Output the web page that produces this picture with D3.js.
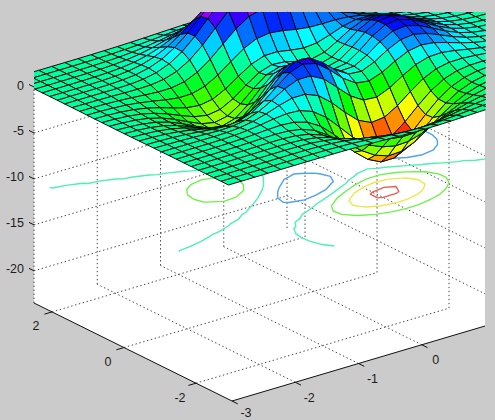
<!DOCTYPE html>
<html>
<head>
<meta charset="utf-8">
<script src="https://cdn.jsdelivr.net/npm/d3@7"></script>
<style>
  html, body { margin: 0; padding: 0; background: #cbcbcb; }
  svg { display: block; }
  text { font-family: "Liberation Sans", Arial, sans-serif; font-size: 12.5px; fill: #1c1c1c; }
</style>
</head>
<body>
<svg id="chart" width="495" height="420"></svg>
<script>
// Mesh coordinates, one entry per grid line
const gridX = [-3,-2.7931,-2.5862,-2.3793,-2.1724,-1.9655,-1.7586,-1.5517,-1.3448,-1.1379,-0.931,-0.7241,-0.5172,-0.3103,-0.1034,0.1034,0.3103,0.5172,0.7241,0.931,1.1379,1.3448,1.5517,1.7586,1.9655,2.1724,2.3793,2.5862,2.7931,3];
const gridY = [-3,-2.7931,-2.5862,-2.3793,-2.1724,-1.9655,-1.7586,-1.5517,-1.3448,-1.1379,-0.931,-0.7241,-0.5172,-0.3103,-0.1034,0.1034,0.3103,0.5172,0.7241,0.931,1.1379,1.3448,1.5517,1.7586,1.9655,2.1724,2.3793,2.5862,2.7931,3];

// Surface heights: one row per gridY entry, one column per gridX entry
const heights = [
[0.00007,0.00019,0.00048,0.00108,0.00214,0.00365,0.00506,0.00481,-0.0001,-0.01379,-0.04027,-0.08104,-0.13276,-0.18666,-0.2305,-0.25305,-0.24867,-0.21968,-0.17489,-0.12562,-0.08143,-0.04764,-0.0251,-0.01189,-0.00503,-0.0019,-0.00062,-0.00017,-0.00004,-0.00001],
[0.00013,0.00039,0.00096,0.00216,0.00422,0.00696,0.00901,0.0066,-0.00707,-0.04128,-0.10481,-0.2006,-0.32045,-0.44398,-0.54321,-0.59265,-0.57994,-0.51083,-0.40586,-0.2911,-0.18853,-0.11022,-0.05806,-0.02748,-0.01163,-0.00437,-0.00144,-0.0004,-0.00008,-0.00002],
[0.00025,0.00072,0.0018,0.004,0.00771,0.01245,0.0152,0.00818,-0.02256,-0.09586,-0.22936,-0.42857,-0.67631,-0.93044,-1.13343,-1.23305,-1.20419,-1.05905,-0.84026,-0.60181,-0.3891,-0.227,-0.1192,-0.05618,-0.02363,-0.00879,-0.00285,-0.00077,-0.00016,-0.00002],
[0.00042,0.00119,0.00305,0.0068,0.01319,0.02123,0.02551,0.01194,-0.04487,-0.17921,-0.42366,-0.78874,-1.24353,-1.71101,-2.08531,-2.26971,-2.21714,-1.94954,-1.54551,-1.10502,-0.71241,-0.41375,-0.21579,-0.10066,-0.04169,-0.01513,-0.0047,-0.00117,-0.0002,0],
[0.00062,0.00181,0.00468,0.01066,0.02108,0.03485,0.04394,0.0265,-0.05793,-0.26546,-0.65098,-1.23512,-1.97129,-2.73623,-3.3563,-3.66999,-3.59577,-3.16615,-2.5091,-1.78963,-1.14801,-0.66111,-0.34026,-0.15548,-0.0623,-0.02139,-0.00597,-0.00114,0.00001,0.00013],
[0.00076,0.00232,0.0063,0.01496,0.03093,0.05424,0.07591,0.06774,-0.02612,-0.28701,-0.79962,-1.60407,-2.6447,-3.75099,-4.67093,-5.16147,-5.09167,-4.49863,-3.56465,-2.53207,-1.60949,-0.91217,-0.45736,-0.20022,-0.07449,-0.02209,-0.00412,0.00042,0.00086,0.0005],
[0.00063,0.00226,0.0068,0.01771,0.03983,0.0767,0.12298,0.15053,0.09473,-0.14811,-0.69737,-1.62717,-2.89366,-4.29787,-5.51796,-6.22387,-6.21977,-5.53023,-4.38061,-3.08693,-1.92732,-1.05739,-0.50095,-0.19758,-0.05866,-0.00766,0.00513,0.00526,0.00304,0.00137],
[-0.00011,0.00069,0.00413,0.01458,0.04002,0.09069,0.17202,0.26818,0.3208,0.21601,-0.19978,-1.05276,-2.34644,-3.8958,-5.34177,-6.27789,-6.42975,-5.78106,-4.57027,-3.16477,-1.89951,-0.96502,-0.39072,-0.1019,0.00937,0.03373,0.02717,0.01566,0.00742,0.00302],
[-0.00197,-0.00371,-0.00498,-0.00149,0.01749,0.07118,0.18361,0.36636,0.5888,0.74753,0.663,0.14097,-0.91154,-2.37963,-3.91641,-5.062,-5.45423,-5.00354,-3.92261,-2.59834,-1.40198,-0.54876,-0.0706,0.12077,0.14856,0.11191,0.06665,0.03363,0.0148,0.00576],
[-0.00543,-0.01228,-0.02397,-0.03866,-0.04532,-0.01622,0.09572,0.34272,0.74356,1.23002,1.61202,1.62099,1.04132,-0.13212,-1.61155,-2.9088,-3.57039,-3.4097,-2.58451,-1.4779,-0.48218,0.17171,0.45476,0.47202,0.36201,0.22939,0.12514,0.05996,0.02554,0.00974],
[-0.01074,-0.02578,-0.05499,-0.10249,-0.16171,-0.20098,-0.1514,0.08576,0.59381,1.36145,2.20829,2.79949,2.78696,2.02175,0.70692,-0.65699,-1.52827,-1.61908,-1.02872,-0.13659,0.643,1.06595,1.11295,0.91477,0.63216,0.37853,0.19956,0.09354,0.03925,0.01481],
[-0.01757,-0.04349,-0.09659,-0.19071,-0.32936,-0.48413,-0.57111,-0.44794,0.03747,0.94423,2.12118,3.18839,3.68129,3.31529,2.20949,0.87195,-0.07787,-0.26759,0.24061,1.04991,1.7097,1.95918,1.79523,1.38569,0.92471,0.54211,0.28194,0.13097,0.05462,0.02052],
[-0.02496,-0.06289,-0.14282,-0.2906,-0.52406,-0.82466,-1.1025,-1.18097,-0.84535,0.03587,1.35498,2.71338,3.56307,3.51352,2.61658,1.3859,0.49974,0.38605,0.99043,1.87611,2.54355,2.71227,2.39903,1.81582,1.19763,0.69694,0.36073,0.16705,0.06951,0.02609],
[-0.03147,-0.08013,-0.18441,-0.38175,-0.70497,-1.14864,-1.62437,-1.93369,-1.81358,-1.0692,0.2402,1.72161,2.78179,2.96068,2.26043,1.19119,0.46167,0.52485,1.31579,2.35481,3.09843,3.25089,2.8487,2.14399,1.40905,0.81812,0.42285,0.19562,0.08136,0.03053],
[-0.03564,-0.09134,-0.21189,-0.44313,-0.82954,-1.37781,-2.00593,-2.50723,-2.59102,-2.01847,-0.80481,0.68159,1.84,2.17818,1.66166,0.77847,0.23143,0.4707,1.4192,2.57589,3.37966,3.5328,3.08711,2.31899,1.52216,0.88309,0.45619,0.21099,0.08775,0.03291],
[-0.03654,-0.09401,-0.21918,-0.4612,-0.87038,-1.4618,-2.16298,-2.77374,-3.00079,-2.58788,-1.51764,-0.11865,1.03897,1.46918,1.11397,0.41696,0.03514,0.38972,1.39882,2.57506,3.37729,3.52393,3.07465,2.30712,1.51325,0.87751,0.45318,0.20956,0.08715,0.03269],
[-0.03409,-0.08791,-0.20558,-0.43423,-0.82354,-1.3923,-2.07971,-2.70567,-2.9992,-2.7143,-1.8152,-0.57975,0.48682,0.94134,0.7154,0.1887,-0.0635,0.32834,1.28696,2.3741,3.10583,3.23362,2.81709,2.11174,1.38421,0.80233,0.41426,0.19153,0.07964,0.02988],
[-0.029,-0.07487,-0.17537,-0.37111,-0.70542,-1.19613,-1.79372,-2.34652,-2.62299,-2.40814,-1.66074,-0.60439,0.33931,0.79075,0.67609,0.29519,0.11731,0.44915,1.23217,2.11002,2.68788,2.76465,2.39314,1.78731,1.16889,0.67654,0.34897,0.16124,0.06702,0.02513],
[-0.02246,-0.058,-0.13572,-0.28687,-0.5442,-0.91967,-1.37119,-1.77495,-1.94273,-1.69865,-1.00487,-0.03814,0.85799,1.36023,1.37736,1.11496,0.92808,1.06765,1.51758,2.0353,2.3416,2.29432,1.93543,1.42406,0.9228,0.53092,0.27276,0.12568,0.05212,0.01953],
[-0.01577,-0.04054,-0.09434,-0.19781,-0.37091,-0.61559,-0.8908,-1.09249,-1.06782,-0.67614,0.11269,1.15306,2.15371,2.81833,3.0144,2.84321,2.55317,2.36106,2.32093,2.32894,2.23837,1.9729,1.56238,1.10552,0.6986,0.39525,0.20073,0.09173,0.03781,0.0141],
[-0.0099,-0.02515,-0.0576,-0.11803,-0.21362,-0.33461,-0.43584,-0.42341,-0.16782,0.44586,1.43939,2.68252,3.90808,4.81731,5.21944,5.1144,4.66244,4.0684,3.47087,2.90857,2.36501,1.82778,1.31559,0.8702,0.52445,0.28691,0.14222,0.06386,0.02598,0.00959],
[-0.00543,-0.01342,-0.02948,-0.05668,-0.09197,-0.11566,-0.07773,0.11038,0.56298,1.37704,2.56721,4.0108,5.45161,6.58032,7.15468,7.09441,6.49477,5.55753,4.49336,3.45623,2.53331,1.76269,1.15452,0.70581,0.39943,0.20803,0.09926,0.04328,0.01721,0.00624],
[-0.00247,-0.00569,-0.01108,-0.01682,-0.01379,0.02297,0.14433,0.43178,0.9854,1.88688,3.14563,4.64852,6.15693,7.36862,8.02086,7.9887,7.32419,6.2187,4.91741,3.63741,2.52469,1.64625,1.00646,0.57536,0.30622,0.15114,0.06889,0.0289,0.01114,0.00393],
[-0.00082,-0.00142,-0.00118,0.00385,0.02465,0.086,0.23364,0.53686,1.07812,1.92296,3.0772,4.44448,5.82036,6.93884,7.5563,7.5404,6.9173,5.85272,4.58136,3.32634,2.24549,1.41198,0.82703,0.4512,0.22894,0.10787,0.04709,0.01899,0.00706,0.00242],
[-0.00005,0.00041,0.00273,0.01091,0.03483,0.09493,0.22728,0.4848,0.92936,1.60925,2.52801,3.61182,4.70389,5.597,6.09618,6.08892,5.5873,4.71924,3.67558,2.64367,1.7588,1.08406,0.61921,0.32803,0.16112,0.07336,0.03092,0.01206,0.00434,0.00144],
[0.00018,0.00088,0.00328,0.01054,0.02994,0.07599,0.17367,0.35893,0.67337,1.14917,1.78831,2.54062,3.29914,3.92148,4.27159,4.26853,3.91744,3.30576,2.5678,1.83755,1.21278,0.73914,0.41607,0.2165,0.10414,0.04632,0.01905,0.00724,0.00255,0.00082],
[0.0002,0.00074,0.00248,0.00748,0.02033,0.04999,0.1117,0.2272,0.42144,0.71363,1.1048,1.5646,2.02841,2.40962,2.62488,2.62368,2.40805,2.03101,1.57524,1.12402,0.73846,0.44713,0.24951,0.12841,0.06097,0.02672,0.0108,0.00403,0.00139,0.00044],
[0.00013,0.00047,0.0015,0.00439,0.01165,0.0282,0.06227,0.12553,0.23135,0.38995,0.60187,0.85077,1.10191,1.30855,1.42549,1.42507,1.308,1.10286,0.8546,0.60877,0.39886,0.24054,0.13352,0.06825,0.03213,0.01394,0.00557,0.00205,0.0007,0.00022],
[0.00007,0.00024,0.00077,0.00221,0.00582,0.01394,0.03055,0.06126,0.11245,0.18902,0.2912,0.41115,0.5322,0.63186,0.68835,0.68821,0.63169,0.53252,0.41241,0.29346,0.19194,0.11547,0.06388,0.03251,0.01523,0.00657,0.0026,0.00096,0.00032,0.0001],
[0.00003,0.00011,0.00034,0.00098,0.00256,0.0061,0.0133,0.02658,0.04868,0.08168,0.12569,0.17733,0.22944,0.27238,0.29673,0.29668,0.27233,0.22954,0.17771,0.12637,0.08256,0.04959,0.02737,0.01389,0.00649,0.00279,0.0011,0.0004,0.00013,0.00004]
];

// Axis ranges and tick values
const xLimits = [-3, 1];
const yLimits = [-3, 2.5];
const zLimits = [-23.5, 0];
const xTicks = [-3, -2, -1, 0];
const yTicks = [-2, 0, 2];
const zTicks = [0, -5, -10, -15, -20];
const contourLevels = [-6, -4, -2, 0, 2, 4, 6, 8];
const contourPlane = -10;

// Fixed oblique view: each data axis contributes a screen offset
const xToSx = d3.scaleLinear().domain(xLimits).range([232, 485]);
const xToSy = d3.scaleLinear().domain(xLimits).range([401, 326]);
const yToSx = d3.scaleLinear().domain(yLimits).range([0, -198]);
const yToSy = d3.scaleLinear().domain(yLimits).range([0, -98]);
const zToSy = d3.scaleLinear().domain(zLimits).range([0, -216]);
const zToLean = d3.scaleLinear().domain(zLimits).range([0, -3.5]);

const floorPoint = (x, y) => [xToSx(x) + yToSx(y), xToSy(x) + yToSy(y)];
const wallPoint = (x, y, z) => { const p = floorPoint(x, y); return [p[0], p[1] + zToSy(z)]; };
const project = (x, y, z) => { const p = wallPoint(x, y, z); return [p[0] + zToLean(z), p[1]]; };

const svg = d3.select("#chart");
const pathLine = d3.line();

// Heights map to hues through a 64-step wheel spanning the data range
const allHeights = heights.flat();
const hueScale = d3.scaleQuantize()
  .domain(d3.extent(allHeights))
  .range(d3.range(64).map(i => i * 360 / 64));
const faceColor = z => d3.hsl(hueScale(z), 1, 0.5).formatHex();
const lineColor = z => d3.hsl(hueScale(z), 0.85, 0.62).formatHex();

svg.append("defs").append("clipPath").attr("id", "view")
  .append("rect").attr("x", 34).attr("y", 12).attr("width", 451.5).attr("height", 408);

// Floor and back walls
svg.append("path")
  .attr("fill", "#fff")
  .attr("d", pathLine([
    floorPoint(xLimits[0], yLimits[1]),
    floorPoint(xLimits[0], yLimits[0]),
    floorPoint(xLimits[1], yLimits[0]),
    wallPoint(xLimits[1], yLimits[0], 0),
    wallPoint(xLimits[1], yLimits[1], 0),
    wallPoint(xLimits[0], yLimits[1], 0)
  ]) + "Z");

// Dotted grid on floor and walls
const grid = svg.append("g")
  .attr("fill", "none").attr("stroke", "#444").attr("stroke-width", 1)
  .attr("stroke-dasharray", "1.4 2.6");
const addGrid = pts => grid.append("path").attr("d", pathLine(pts));
[-2, -1, 0].forEach(x => {
  addGrid([floorPoint(x, yLimits[0]), floorPoint(x, yLimits[1])]);
  addGrid([wallPoint(x, yLimits[1], zLimits[0]), wallPoint(x, yLimits[1], 0)]);
});
addGrid([wallPoint(xLimits[0], yLimits[1], zLimits[0]), wallPoint(xLimits[0], yLimits[1], 0)]);
yTicks.forEach(y => {
  addGrid([floorPoint(xLimits[0], y), floorPoint(xLimits[1], y)]);
  addGrid([wallPoint(xLimits[1], y, zLimits[0]), wallPoint(xLimits[1], y, 0)]);
});
addGrid([wallPoint(xLimits[1], yLimits[1], zLimits[0]), wallPoint(xLimits[1], yLimits[1], 0)]);
zTicks.forEach(z => {
  addGrid([wallPoint(xLimits[0], yLimits[1], z), wallPoint(xLimits[1], yLimits[1], z), wallPoint(xLimits[1], yLimits[0], z)]);
});

// Solid axis lines with outward ticks
const axes = svg.append("g").attr("fill", "none").attr("stroke", "#111").attr("stroke-width", 1);
axes.append("path").attr("d", pathLine([
  floorPoint(xLimits[0], yLimits[1]),
  floorPoint(xLimits[0], yLimits[0]),
  floorPoint(xLimits[1], yLimits[0])
]));
xTicks.forEach(x => {
  const p = floorPoint(x, yLimits[0]), q = floorPoint(x, yLimits[0] - 0.16);
  axes.append("path").attr("d", pathLine([p, q]));
});
yTicks.forEach(y => {
  const p = floorPoint(xLimits[0], y), q = floorPoint(xLimits[0] - 0.12, y);
  axes.append("path").attr("d", pathLine([p, q]));
});
zTicks.forEach(z => {
  const p = wallPoint(xLimits[0], yLimits[1], z);
  axes.append("path").attr("d", pathLine([p, [p[0] - 5, p[1] - 2.5]]));
});

const view = svg.append("g").attr("clip-path", "url(#view)");

// Contour lines on their own plane; d3.contours closes rings along the mesh
// border, so those outer segments are dropped and only the level lines stay
const nx = gridX.length, ny = gridY.length;
const gxOf = d3.scaleLinear().domain([0.5, nx - 0.5]).range(d3.extent(gridX));
const gyOf = d3.scaleLinear().domain([0.5, ny - 0.5]).range(d3.extent(gridY));
const onBorder = p => p[0] <= 0 || p[0] >= nx || p[1] <= 0 || p[1] >= ny;
const contourGen = d3.contours().size([nx, ny]).thresholds(contourLevels);
contourGen(allHeights).forEach(c => {
  const runs = [];
  c.coordinates.forEach(poly => poly.forEach(ring => {
    let run = [];
    ring.forEach(p => {
      if (onBorder(p)) { if (run.length > 1) runs.push(run); run = []; }
      else run.push(project(gxOf(p[0]), gyOf(p[1]), contourPlane));
    });
    if (run.length > 1) runs.push(run);
  }));
  view.append("path")
    .attr("fill", "none")
    .attr("stroke", lineColor(c.value))
    .attr("stroke-width", 1.4)
    .attr("stroke-linejoin", "round")
    .attr("d", runs.map(r => pathLine(r)).join(""));
});

// Mesh faces, painted from the far corner toward the viewer
for (let j = ny - 2; j >= 0; j--) {
  for (let i = nx - 2; i >= 0; i--) {
    const corners = [
      project(gridX[i], gridY[j], heights[j][i]),
      project(gridX[i + 1], gridY[j], heights[j][i + 1]),
      project(gridX[i + 1], gridY[j + 1], heights[j + 1][i + 1]),
      project(gridX[i], gridY[j + 1], heights[j + 1][i])
    ];
    view.append("path")
      .attr("d", pathLine(corners) + "Z")
      .attr("fill", faceColor(heights[j][i]))
      .attr("stroke", "#0a0a0a")
      .attr("stroke-width", 1)
      .attr("stroke-linejoin", "round");
  }
}

// Tick labels, kept inside the window at the bottom edge
const labels = svg.append("g");
const addLabel = (x, y, s, anchor) => labels.append("text")
  .attr("x", x).attr("y", y).attr("text-anchor", anchor).attr("dy", "0.36em").text(s);
zTicks.forEach(z => {
  const p = wallPoint(xLimits[0], yLimits[1], z);
  addLabel(p[0] - 10, p[1] - 2, String(z), "end");
});
yTicks.forEach(y => {
  const p = floorPoint(xLimits[0], y);
  addLabel(p[0] - 16, p[1] + 14, String(y), "middle");
});
xTicks.forEach(x => {
  const p = floorPoint(x, yLimits[0]);
  addLabel(p[0] + 14, Math.min(p[1] + 15, 412.5), String(x), "middle");
});
</script>
</body>
</html>
